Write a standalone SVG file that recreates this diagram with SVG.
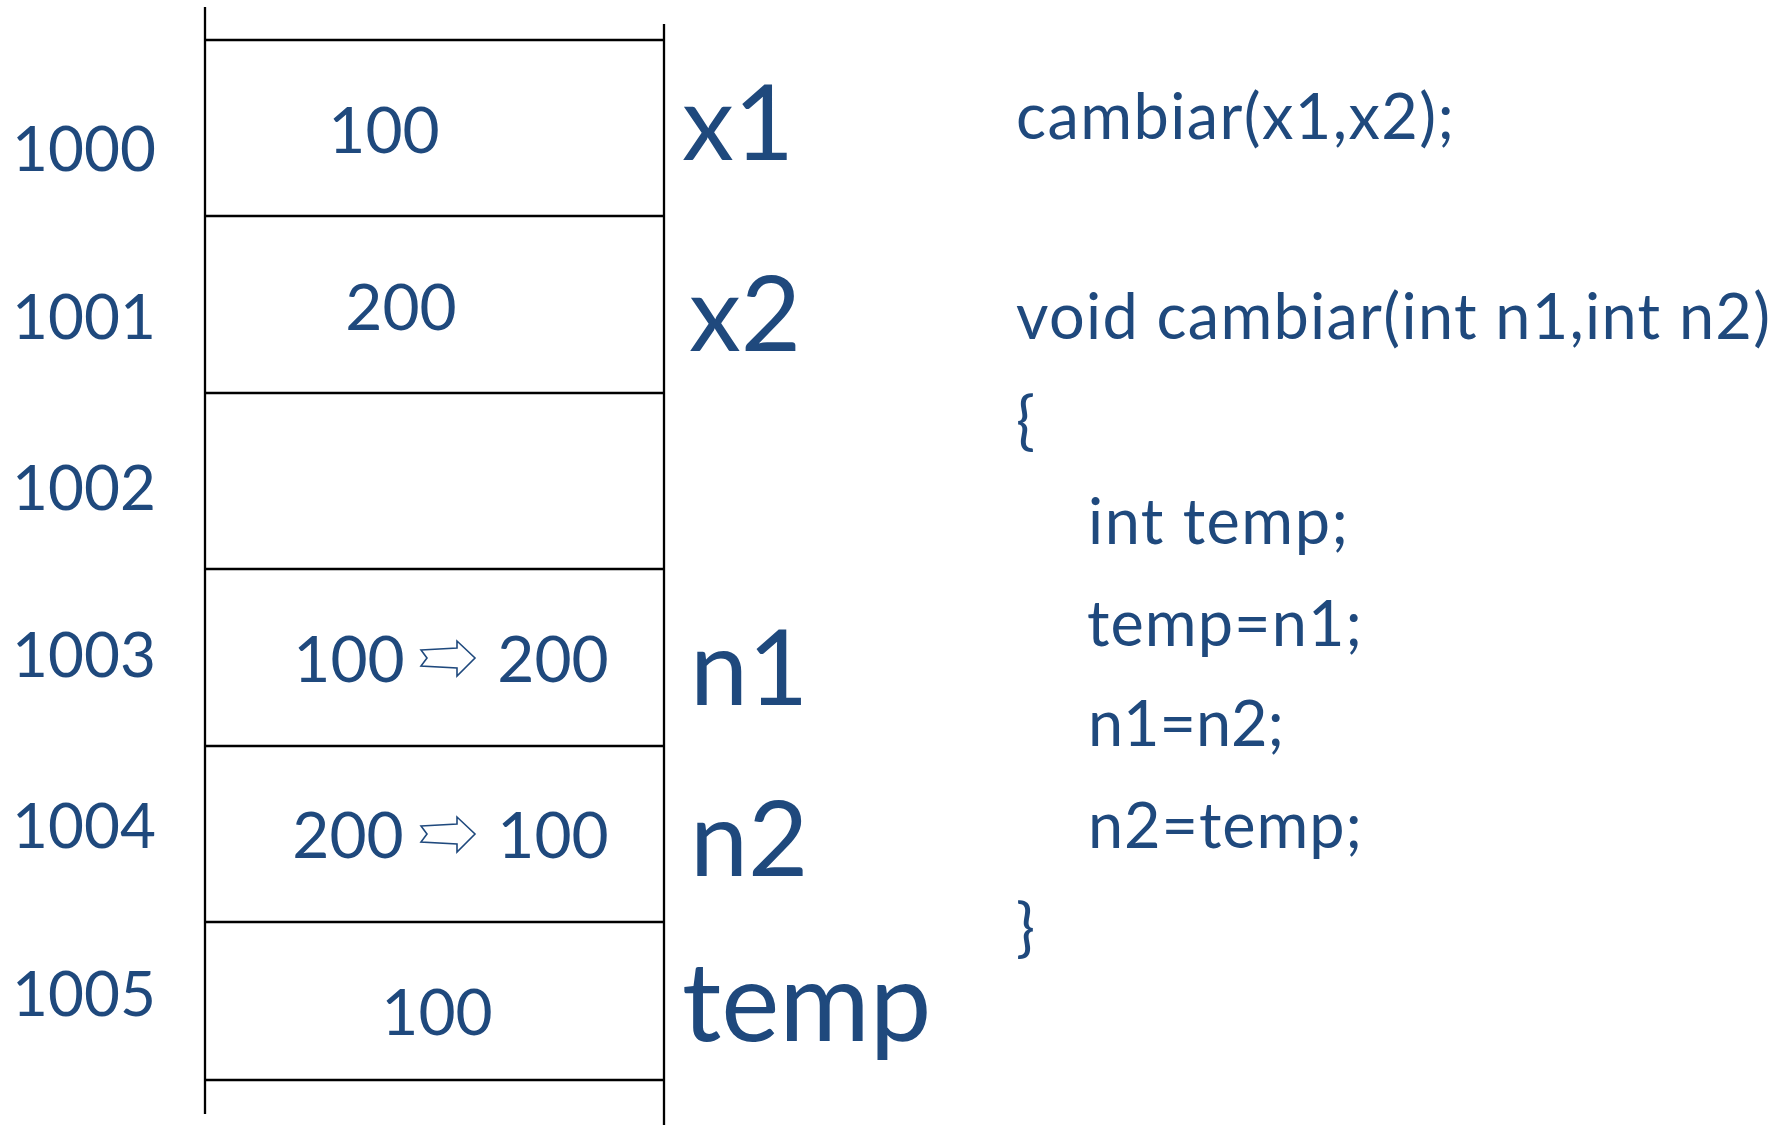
<svg xmlns="http://www.w3.org/2000/svg" width="1788" height="1125" viewBox="0 0 1788 1125">
<style>
.t{font-family:Lato,"Open Sans","Liberation Sans",sans-serif;fill:#1F497D}
.addr{font-size:62px;text-anchor:middle}
.val{font-size:64px;text-anchor:middle}
.var{font-size:104px}
.code{font-size:63px}
.ln{stroke:#000;stroke-width:2.3;fill:none}
.arr{fill:#fff;stroke:#1F497D;stroke-width:1.6;stroke-linejoin:miter}
</style>
<rect width="1788" height="1125" fill="#fff"/>
<g id="frame">
<line class="ln" x1="205" y1="7" x2="205" y2="1114"/>
<line class="ln" x1="664" y1="24" x2="664" y2="1125"/>
</g>
<g id="cell-1000">
<line class="ln" x1="205" y1="40" x2="664" y2="40"/>
<text class="t addr" x="84" y="171">1000</text>
<text class="t val" x="384" y="153">100</text>
<text class="t var" x="682" y="160">x1</text>
</g>
<g id="cell-1001">
<line class="ln" x1="205" y1="216" x2="664" y2="216"/>
<text class="t addr" x="84" y="339">1001</text>
<text class="t val" x="401" y="330">200</text>
<text class="t var" x="689" y="351">x2</text>
</g>
<g id="cell-1002">
<line class="ln" x1="205" y1="393" x2="664" y2="393"/>
<text class="t addr" x="84" y="510">1002</text>
</g>
<g id="cell-1003">
<line class="ln" x1="205" y1="569" x2="664" y2="569"/>
<text class="t addr" x="84" y="677">1003</text>
<text class="t val" x="349" y="682">100</text>
<polygon class="arr" points="421,650 457,648 457,641 475,658 457,676 457,668 421,666 427,658"/>
<text class="t val" x="553" y="682">200</text>
<text class="t var" x="690" y="705">n1</text>
</g>
<g id="cell-1004">
<line class="ln" x1="205" y1="746" x2="664" y2="746"/>
<text class="t addr" x="84" y="848">1004</text>
<text class="t val" x="348" y="858">200</text>
<polygon class="arr" points="421,826 457,824 457,817 475,834 457,852 457,844 421,842 427,834"/>
<text class="t val" x="553" y="858">100</text>
<text class="t var" x="690" y="876">n2</text>
</g>
<g id="cell-1005">
<line class="ln" x1="205" y1="922" x2="664" y2="922"/>
<line class="ln" x1="205" y1="1080" x2="664" y2="1080"/>
<text class="t addr" x="84" y="1016">1005</text>
<text class="t val" x="437" y="1035">100</text>
<text class="t var" x="682" y="1041" style="font-size:110px">temp</text>
</g>
<g id="code">
<text class="t code" x="1016" y="139" textLength="438">cambiar(x1,x2);</text>
<text class="t code" x="1016" y="339" textLength="754">void cambiar(int n1,int n2)</text>
<text class="t code" x="1016" y="443">{</text>
<text class="t code" x="1088" y="544" textLength="260">int temp;</text>
<text class="t code" x="1087" y="646" textLength="275">temp=n1;</text>
<text class="t code" x="1088" y="746" textLength="196">n1=n2;</text>
<text class="t code" x="1088" y="848" textLength="274">n2=temp;</text>
<text class="t code" x="1016" y="950">}</text>
</g>
<g id="connectors"></g>
</svg>
